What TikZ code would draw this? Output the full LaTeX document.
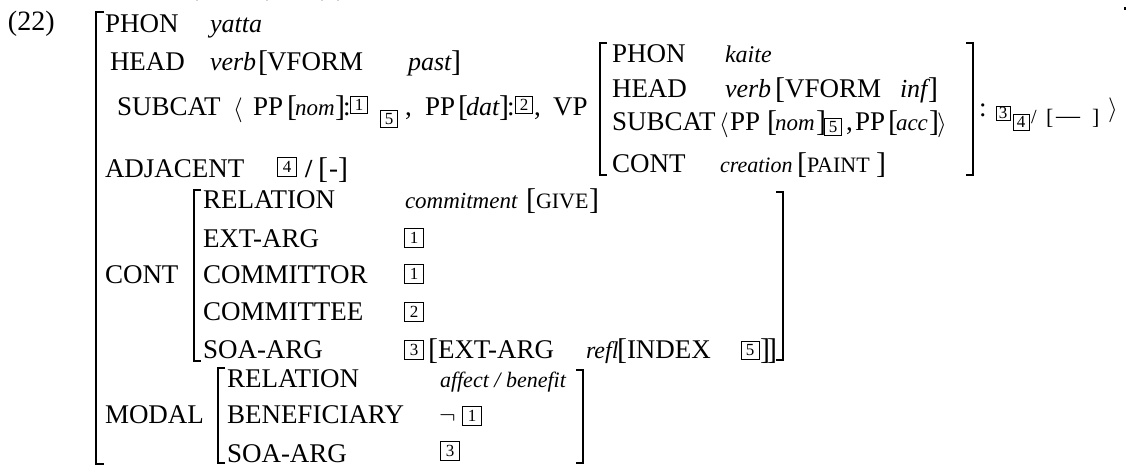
\documentclass[tikz,border=0pt]{standalone}
\usepackage{fontspec}
\setmainfont{Liberation Serif}
\newcommand\myfs[1]{\fontsize{#1}{#1}\selectfont}
\tikzset{
  t/.style={anchor=base west, inner sep=0pt, outer sep=0pt, font=\myfs{27}},
  tag/.style={draw, line width=0.8pt, inner sep=0pt, minimum size=#1, anchor=center, font=\myfs{17}},
  tag/.default=17pt,
  brk/.style={line width=2.4pt, line join=miter},
}
\begin{document}
\begin{tikzpicture}[x=1pt,y=-1pt]
\useasboundingbox (0,0) rectangle (1127,466);
% faint fragments and dot
\fill[gray!35] (196,0) rectangle (198,1.2);
\fill[gray!35] (266,0) rectangle (268,1.2);
\fill[gray!35] (321,0) rectangle (323,1.2);
\fill[gray!35] (337,0) rectangle (339,1.2);
\fill (1123.5,6.5) rectangle (1126,9.5);
% label
\node[t, font=\myfs{28}] (ex) at (8,30) {(22)};
% outer bracket
\draw[brk] (104,12) -- (96,12) -- (96,464) -- (104,464);
% row 1
\node[t] (phon) at (105,32) {PHON};
\node[t, font=\myfs{26}\itshape] (yatta) at (210,32) {yatta};
% row 2
\node[t] (head) at (110,70) {HEAD};
\node[t, font=\myfs{26}\itshape] (verb) at (210,70) {verb};
\node[t, font=\myfs{30}] (hb1) at (258,71) {[};
\node[t] (vform) at (267,70) {VFORM};
\node[t, font=\myfs{26}\itshape] (past) at (408,70) {past};
\node[t, font=\myfs{30}] (hb2) at (451,71) {]};
% row 3 (SUBCAT)
\node[t] (subcat) at (117,115) {SUBCAT};
\node[t, font=\myfs{26}] (la) at (233,116) {$\langle$};
\node[t] (pp1) at (253,115) {PP};
\node[t, font=\myfs{30}] (sb1) at (287,116) {[};
\node[t, font=\myfs{23}\itshape] (nom1) at (295,115) {nom};
\node[t, font=\myfs{30}] (sb2) at (335,116) {]};
\node[t] (c1) at (343,115) {:};
\node[tag] (t1a) at (359,105) {1};
\node[tag] (t5a) at (389,119) {5};
\node[t] (cm1) at (405,115) {,};
\node[t] (pp2) at (425,115) {PP};
\node[t, font=\myfs{30}] (sb3) at (458,116) {[};
\node[t, font=\myfs{26}\itshape] (dat) at (466,115) {dat};
\node[t, font=\myfs{30}] (sb4) at (499,116) {]};
\node[t] (c2) at (507,115) {:};
\node[tag] (t2a) at (524,105) {2};
\node[t] (cm2) at (534,115) {,};
\node[t] (vp) at (553,115) {VP};
% inner VP AVM
\draw[brk] (607,43) -- (600,43) -- (600,175) -- (607,175);
\draw[brk] (966,43) -- (973,43) -- (973,175) -- (966,175);
\node[t] (iphon) at (612,62) {PHON};
\node[t, font=\myfs{24}\itshape] (kaite) at (725,62) {kaite};
\node[t] (ihead) at (612,97) {HEAD};
\node[t, font=\myfs{26}\itshape] (iverb) at (725,97) {verb};
\node[t, font=\myfs{30}] (ib1) at (775,98) {[};
\node[t] (ivform) at (785,97) {VFORM};
\node[t, font=\myfs{26}\itshape] (inf) at (900,97) {inf};
\node[t, font=\myfs{30}] (ib2) at (928,98) {]};
\node[t] (isubcat) at (612,130) {SUBCAT};
\node[t, font=\myfs{26}] (ila) at (719,131) {$\langle$};
\node[t] (ipp1) at (730,130) {PP};
\node[t, font=\myfs{30}] (ib3) at (767,131) {[};
\node[t, font=\myfs{23}\itshape] (inom) at (775,130) {nom};
\node[t, font=\myfs{30}] (ib4) at (816,131) {]};
\node[tag] (t5b) at (833,127) {5};
\node[t] (icm) at (846,130) {,};
\node[t] (ipp2) at (855,130) {PP};
\node[t, font=\myfs{30}] (ib5) at (888,131) {[};
\node[t, font=\myfs{23}\itshape] (acc) at (896,130) {acc};
\node[t, font=\myfs{30}] (ib6) at (929,131) {]};
\node[t, font=\myfs{26}] (ira) at (937,131) {$\rangle$};
\node[t] (icont) at (612,172) {CONT};
\node[t, font=\myfs{22}\itshape] (creation) at (720,172) {creation};
\node[t, font=\myfs{30}] (ib7) at (797,173) {[};
\node[t, font=\myfs{22}] (paint) at (807,172) {PAINT};
\node[t, font=\myfs{30}] (ib8) at (876,173) {]};
% after inner AVM
\node[t] (c3) at (979,116) {:};
\node[tag=14pt] (t3a) at (1003,113) {3};
\node[tag=16pt] (t4a) at (1021,122) {4};
\node[t, font=\myfs{20}] (sl1) at (1031,123) {/};
\node[t, font=\myfs{22}] (mb1) at (1046,124) {[};
\node[t, font=\myfs{24}] (mn1) at (1056,123) {—};
\node[t, font=\myfs{22}] (mb2) at (1092,124) {]};
\node[t, font=\myfs{26}] (ra) at (1108,116) {$\rangle$};
% ADJACENT
\node[t] (adj) at (105,177) {ADJACENT};
\node[tag=19pt] (t4b) at (287,167) {4};
\node[t, font=\myfs{26}\bfseries] (sl2) at (305,177) {/};
\node[t, font=\myfs{30}] (ab1) at (318,178) {[};
\node[t] (ad) at (329,177) {-};
\node[t, font=\myfs{30}] (ab2) at (338,178) {]};
% CONT block
\draw[brk] (201,190) -- (194,190) -- (194,361) -- (201,361);
\draw[brk] (776,192) -- (783,192) -- (783,360) -- (776,360);
\node[t] (cont) at (105,283) {CONT};
\node[t] (rel1) at (203,208) {RELATION};
\node[t, font=\myfs{23}\itshape] (commit) at (405,208) {commitment};
\node[t, font=\myfs{30}] (gb1) at (526,209) {[};
\node[t, font=\myfs{22}] (give) at (536,208) {GIVE};
\node[t, font=\myfs{30}] (gb2) at (589,209) {]};
\node[t] (extarg) at (203,247) {EXT-ARG};
\node[tag=19pt] (t1b) at (414,238) {1};
\node[t] (committor) at (203,283) {COMMITTOR};
\node[tag=19pt] (t1c) at (414,274) {1};
\node[t] (committee) at (203,320) {COMMITTEE};
\node[tag=19pt] (t2b) at (414,312) {2};
\node[t] (soa1) at (203,358) {SOA-ARG};
\node[tag=19pt] (t3b) at (414,350) {3};
\node[t, font=\myfs{30}] (sb5) at (428,359) {[};
\node[t] (extarg2) at (438,358) {EXT-ARG};
\node[t, font=\myfs{24}\itshape] (refl) at (586,358) {refl};
\node[t, font=\myfs{30}] (sb6) at (617,359) {[};
\node[t] (index) at (627,358) {INDEX};
\node[tag=18pt] (t5c) at (750,350) {5};
\node[t, font=\myfs{30}] (sb7) at (760,359) {]};
\node[t, font=\myfs{30}] (sb8) at (767,359) {]};
% MODAL block
\draw[brk] (225,368) -- (218,368) -- (218,463) -- (225,463);
\draw[brk] (576,370) -- (583,370) -- (583,463) -- (576,463);
\node[t] (modal) at (105,423) {MODAL};
\node[t] (rel2) at (227,387) {RELATION};
\node[t, font=\myfs{22}\itshape] (affect) at (440,387) {affect / benefit};
\node[t] (benef) at (227,423) {BENEFICIARY};
\node[t, font=\myfs{24}] (neg) at (439,423) {$\neg$};
\node[tag=19pt] (t1d) at (472,416) {1};
\node[t] (soa2) at (227,462) {SOA-ARG};
\node[tag=19pt] (t3c) at (450,451) {3};
\end{tikzpicture}
\end{document}
